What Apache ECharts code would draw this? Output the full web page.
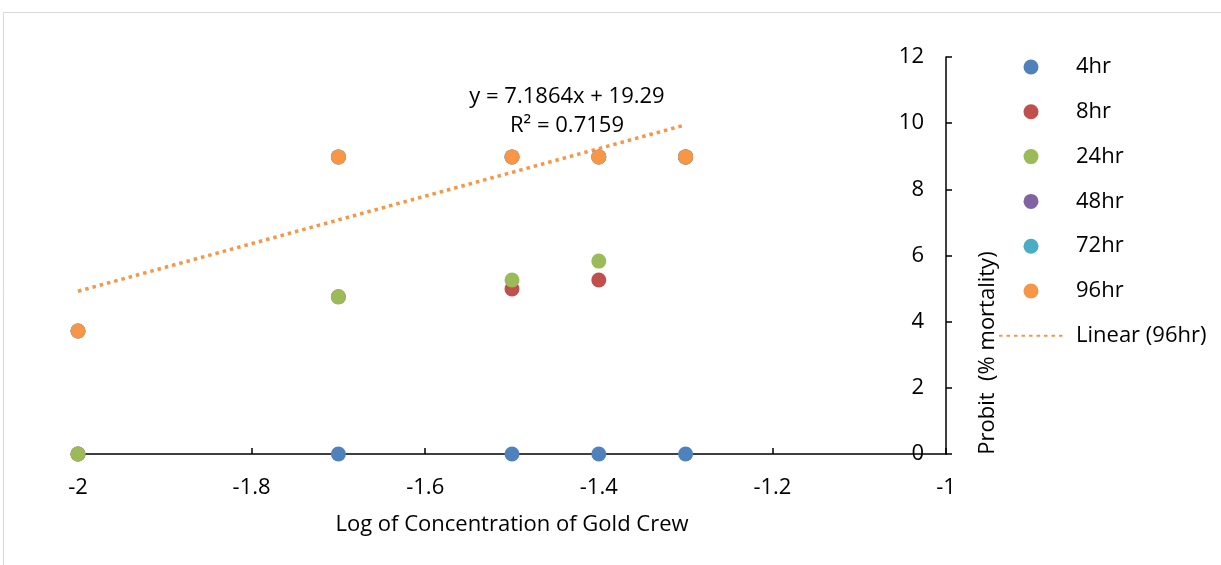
<!DOCTYPE html>
<html>
<head>
<meta charset="utf-8">
<script src="https://cdn.jsdelivr.net/npm/echarts@6/dist/echarts.min.js"></script>
<style>
  html, body { margin: 0; padding: 0; background: #fff; }
  #chart { width: 1221px; height: 565px; }
</style>
</head>
<body>
<div id="chart"></div>
<script>
// log concentration values (x)
const logConc = [-2, -1.7, -1.5, -1.4, -1.3];
// probit values per exposure time
const hr4 = [0, 0, 0, 0, 0];
const hr8 = [0, 4.75, 4.99, 5.26, 8.98];
const hr24 = [0, 4.75, 5.26, 5.83, 8.98];
const hr48 = [3.72, 8.98, 8.98, 8.98, 8.98];
const hr72 = [3.72, 8.98, 8.98, 8.98, 8.98];
const hr96 = [3.72, 8.98, 8.98, 8.98, 8.98];
// linear trendline of 96hr (end points)
const trendX = [-2, -1.3];
const trendY = [4.92, 9.95];

const seriesNames = ["4hr", "8hr", "24hr", "48hr", "72hr", "96hr"];
const seriesData = [hr4, hr8, hr24, hr48, hr72, hr96];
const colors = ["#4F81BD", "#C0504D", "#9BBB59", "#8064A2", "#4BACC6", "#F79646"];

const FONT = "Open Sans";
const FS = 22;

function pairs(xs, ys) {
  return xs.map((x, i) => [x, ys[i]]);
}

var myChart = echarts.init(document.getElementById("chart"));

const scatterSeries = seriesNames.map((name, i) => ({
  name: name,
  type: "scatter",
  symbol: "circle",
  symbolSize: 15,
  itemStyle: { color: colors[i], opacity: 1 },
  data: pairs(logConc, seriesData[i]),
}));

const options = {
  animation: false,
  textStyle: { fontFamily: FONT },
  grid: { left: 78, right: 275, top: 57, bottom: 111, containLabel: false },
  xAxis: {
    type: "value",
    min: -2,
    max: -1,
    interval: 0.2,
    name: "Log of Concentration of Gold Crew",
    nameLocation: "middle",
    nameGap: 60,
    nameTextStyle: { fontSize: FS, color: "#000", fontFamily: FONT },
    axisLine: { show: true, lineStyle: { color: "#000", width: 1.5 } },
    axisTick: { show: true, inside: true, length: 6, lineStyle: { color: "#000", width: 1.5 } },
    axisLabel: {
      fontSize: FS,
      color: "#000",
      margin: 23,
      formatter: (v) => String(Math.round(v * 10) / 10),
    },
    splitLine: { show: false },
  },
  yAxis: {
    type: "value",
    position: "right",
    min: 0,
    max: 12,
    interval: 2,
    axisLine: { show: true, lineStyle: { color: "#000", width: 1.5 } },
    axisTick: { show: true, inside: false, length: 6, lineStyle: { color: "#000", width: 1.5 } },
    axisLabel: { inside: true, fontSize: FS, color: "#000", margin: 22 },
    splitLine: { show: false },
  },
  legend: {
    orient: "vertical",
    left: 998,
    top: 56,
    padding: 0,
    itemWidth: 64,
    itemHeight: 15,
    itemGap: 22.8,
    textStyle: { fontSize: FS, color: "#000", fontFamily: FONT, padding: [0, 0, 0, 8] },
    data: seriesNames
      .map((n) => ({ name: n, icon: "circle" }))
      .concat([{ name: "Linear (96hr)", itemStyle: { opacity: 0 } }]),
  },
  graphic: [
    {
      type: "rect",
      silent: true,
      z: -10,
      shape: { x: 3.5, y: 12.5, width: 1400, height: 800 },
      style: { fill: "none", stroke: "#d9d9d9", lineWidth: 1 },
    },
    {
      type: "text",
      x: 988,
      y: 353,
      rotation: Math.PI / 2,
      style: {
        text: "Probit  (% mortality)",
        fontFamily: FONT,
        fontSize: FS,
        fill: "#000",
        align: "center",
        verticalAlign: "middle",
      },
    },
    {
      type: "text",
      x: 567,
      y: 97,
      style: {
        text: "y = 7.1864x + 19.29",
        fontFamily: FONT,
        fontSize: FS,
        fill: "#000",
        align: "center",
        verticalAlign: "middle",
      },
    },
    {
      type: "text",
      x: 567,
      y: 126,
      style: {
        text: "R² = 0.7159",
        fontFamily: FONT,
        fontSize: FS,
        fill: "#000",
        align: "center",
        verticalAlign: "middle",
      },
    },
  ],
  series: scatterSeries.concat([
    {
      name: "Linear (96hr)",
      type: "line",
      symbol: "none",
      z: 1,
      lineStyle: { color: "#F79646", width: 3.5, type: [3.5, 4] },
      itemStyle: { color: "#F79646" },
      data: pairs(trendX, trendY),
    },
  ]),
};
myChart.setOption(options);
</script>
</body>
</html>
